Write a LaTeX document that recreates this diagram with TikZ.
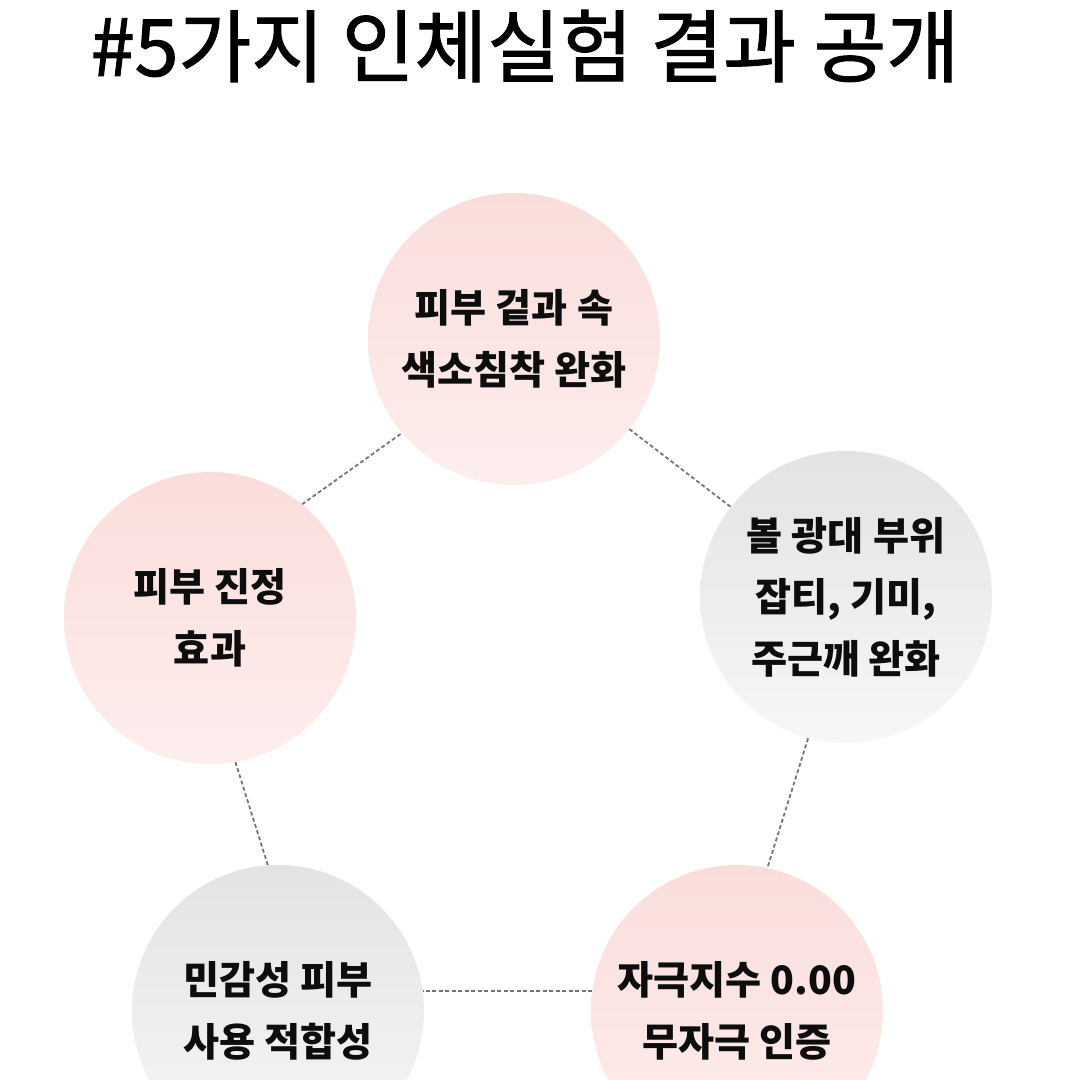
\documentclass[tikz,border=0pt]{standalone}
\usepackage{fontspec}
\setmainfont{Noto Sans CJK KR}
\newfontfamily\headfont[FakeBold=1.3]{Noto Sans CJK KR}
\usetikzlibrary{positioning}
\definecolor{blushtop}{RGB}{250,221,219}
\definecolor{blushbot}{RGB}{253,238,237}
\definecolor{greytop}{RGB}{227,227,227}
\definecolor{greybot}{RGB}{247,247,247}
\definecolor{linkgrey}{RGB}{115,115,115}

\begin{document}
\begin{tikzpicture}[
  pinkdot/.style={circle, minimum size=5.84cm, inner sep=0pt, top color=blushtop, bottom color=blushbot, align=center, text=black!95, font=\bfseries\fontsize{22.3}{35}\selectfont},
  greydot/.style={pinkdot, top color=greytop, bottom color=greybot},
  link/.style={draw=linkgrey, line width=1pt, dash pattern=on 2.2pt off 1.5pt}]
\fill[white] (0,0) rectangle (21.6,21.6);
\clip (0,0) rectangle (21.6,21.6);
\node[font=\headfont\fontsize{45}{52}\selectfont] (title) at (10.5,20.68) {\#5가지 인체실험 결과 공개};
\node[pinkdot] (top) at (10.28,14.82) {피부 겉과 속\\색소침착 완화};
\node[greydot] (right) at (16.92,9.66) {볼 광대 부위\\잡티, 기미,\\주근깨 완화};
\node[pinkdot] (lowr) at (14.74,1.38) {자극지수 0.00\\무자극 인증};
\node[greydot] (lowl) at (5.56,1.38) {민감성 피부\\사용 적합성};
\node[pinkdot] (left) at (4.20,9.24) {피부 진정\\효과};
\draw[link] (top.-38) -- (right.142); \draw[link] (right.255) -- (lowr.78);
\draw[link] (lowr.172) -- (lowl.8); \draw[link] (lowl.94) -- (left.-80);
\draw[link] (left.51) -- (top.220);
\end{tikzpicture}
\end{document}
